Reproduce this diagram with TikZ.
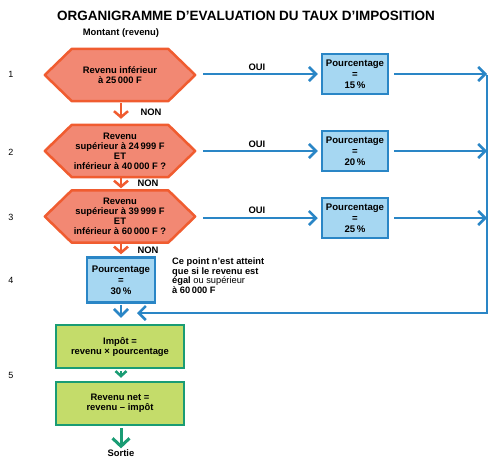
\documentclass[tikz,border=0pt]{standalone}
\usepackage{fontspec}
\setmainfont{Liberation Sans}
\usetikzlibrary{arrows.meta}
\definecolor{hexfill}{RGB}{242,136,115}
\definecolor{hexline}{RGB}{240,92,48}
\definecolor{bfill}{RGB}{166,215,242}
\definecolor{bline}{RGB}{42,134,198}
\definecolor{gfill}{RGB}{196,220,106}
\definecolor{gline}{RGB}{26,156,116}
\pgfdeclarelayer{bg}
\pgfsetlayers{bg,main}
\newcommand\hexdraw[1]{\draw[hexshape] (#1.north west) -- (#1.north east) -- ([xshift=27pt]#1.east) -- (#1.south east) -- (#1.south west) -- ([xshift=-27pt]#1.west) -- cycle;}
\begin{document}
\begin{tikzpicture}[x=1pt,y=-1pt,
 txt/.style={font=\bfseries\fontsize{9.4}{10}\selectfont, align=center, inner sep=0pt},
 num/.style={font=\fontsize{9}{10}\selectfont, inner sep=0pt},
 hexcore/.style={txt, minimum width=96pt, minimum height=52pt},
 hexshape/.style={fill=hexfill, draw=hexline, line width=2.5pt, line join=round},
 bbox/.style={txt, font=\bfseries\fontsize{9.6}{10.8}\selectfont, draw=bline, fill=bfill, line width=2.5pt, minimum width=66pt, minimum height=40pt},
 gbox/.style={txt, draw=gline, fill=gfill, line width=2.5pt, minimum width=128pt, minimum height=43pt},
 barrow/.style={draw=bline, line width=2.5pt, -{Straight Barb[length=7pt,width=14pt]}},
 oarrow/.style={draw=hexline, line width=2.5pt, -{Straight Barb[length=6pt,width=14pt]}},
 garrow/.style={draw=gline, line width=2.5pt, -{Straight Barb[length=5pt,width=11pt]}},
 garrowbig/.style={draw=gline, line width=3pt, -{Straight Barb[length=8pt,width=17pt]}}
]
\useasboundingbox (0,0) rectangle (493,458);

% title
\node[font=\bfseries\fontsize{13.5}{15}\selectfont, inner sep=0pt] (title) at (246,16) {ORGANIGRAMME D’EVALUATION DU TAUX D’IMPOSITION};
\node[txt] (montant) at (121,33) {Montant (revenu)};

% row numbers
\node[num] (n1) at (11,74) {1};
\node[num] (n2) at (11,152) {2};
\node[num] (n3) at (11,217) {3};
\node[num] (n4) at (11,280) {4};
\node[num] (n5) at (11,375) {5};

% hexagons
\node[hexcore] (h1) at (120,75) {Revenu inférieur\\à 25\,000 F};
\node[hexcore] (h2) at (120,151) {Revenu\\supérieur à 24\,999 F\\ET\\inférieur à 40\,000 F ?};
\node[hexcore] (h3) at (120,216.5) {Revenu\\supérieur à 39\,999 F\\ET\\inférieur à 60\,000 F ?};
\begin{pgfonlayer}{bg}
\hexdraw{h1}
\hexdraw{h2}
\hexdraw{h3}
\end{pgfonlayer}
\coordinate (h1r) at ([xshift=27pt]h1.east);
\coordinate (h2r) at ([xshift=27pt]h2.east);
\coordinate (h3r) at ([xshift=27pt]h3.east);

% percentage boxes
\node[bbox] (b1) at (355,74) {Pourcentage\\=\\15\,\%};
\node[bbox] (b2) at (355,151) {Pourcentage\\=\\20\,\%};
\node[bbox] (b3) at (355,218) {Pourcentage\\=\\25\,\%};
\node[bbox, minimum width=68pt, minimum height=45pt] (b4) at (121,280) {Pourcentage\\=\\30\,\%};

% green boxes
\node[gbox] (g1) at (120,346.5) {Impôt =\\revenu × pourcentage};
\node[gbox] (g2) at (120,403.5) {Revenu net =\\revenu – impôt};
\node[txt] (out) at (121,453) {Sortie};

% note
\node[txt, align=left, anchor=north west, font=\bfseries\fontsize{9.3}{9.5}\selectfont] (note) at (172,258) {Ce point n'est atteint\\que si le revenu est\\égal {\mdseries ou supérieur}\\à 60\,000 F};

% OUI arrows
\draw[barrow, shorten <=8pt, shorten >=3pt] (h1r |- b1.west) -- (b1.west);
\draw[barrow, shorten <=8pt, shorten >=3pt] (h2r |- b2.west) -- (b2.west);
\draw[barrow, shorten <=8pt, shorten >=3pt] (h3r |- b3.west) -- (b3.west);
\node[txt] (oui1) at (257,67) {OUI};
\node[txt] (oui2) at (257,144) {OUI};
\node[txt] (oui3) at (257,210) {OUI};

% collector line
\coordinate (r1) at (487,74);
\coordinate (r2) at (487,151);
\coordinate (r3) at (487,218);
\coordinate (rb) at (487,313);
\coordinate (m) at (137,313);
\draw[barrow, shorten <=5pt] (b1.east) -- (r1);
\draw[barrow, shorten <=5pt] (b2.east) -- (r2);
\draw[barrow, shorten <=5pt] (b3.east) -- (r3);
\draw[barrow, line join=miter] ([yshift=-1pt]r1) -- (rb) -- (m);

% NON arrows
\draw[oarrow, shorten <=2pt, shorten >=6pt] ([xshift=1pt]h1.south) -- ([xshift=1pt]h2.north);
\draw[oarrow, shorten <=1pt, shorten >=2pt] ([xshift=1pt]h2.south) -- ([xshift=1pt]h3.north);
\draw[oarrow, shorten <=1pt, shorten >=2pt] ([xshift=1pt]h3.south) -- (b4.north);
\node[txt] (non1) at (151,112) {NON};
\node[txt] (non2) at (148,183) {NON};
\node[txt] (non3) at (148,250) {NON};

% bottom arrows
\draw[barrow, shorten <=1pt, shorten >=6pt] (b4.south) -- (b4.south |- g1.north);
\draw[garrow, shorten <=2pt, shorten >=3pt] (b4.south |- g1.south) -- (b4.south |- g2.north);
\draw[garrowbig, shorten <=2pt, shorten >=1pt] (b4.south |- g2.south) -- (out.north);
\end{tikzpicture}
\end{document}
